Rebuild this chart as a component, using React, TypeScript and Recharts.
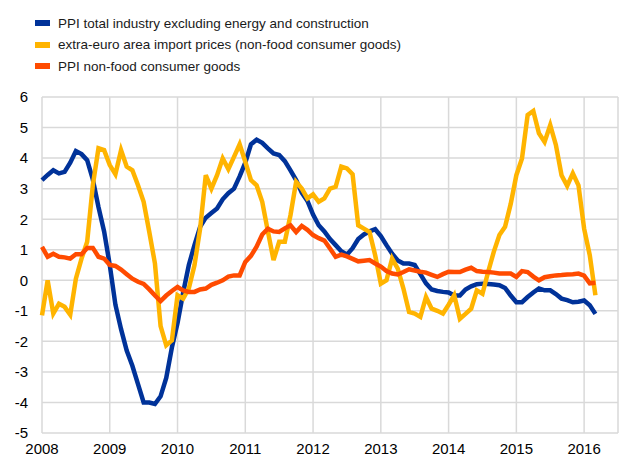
import { LineChart, Line, XAxis, YAxis, CartesianGrid } from "recharts";

// monthly observations, Jan 2008 .. Mar 2016
const ppiTotal = [
  3.28, 3.45, 3.6, 3.5, 3.55, 3.85, 4.23, 4.13, 3.93, 3.3, 2.4, 1.6,
  0.5, -0.8, -1.6, -2.3, -2.8, -3.4, -4.0, -4.0, -4.05, -3.8, -3.2, -2.2,
  -1.4, -0.4, 0.5, 1.15, 1.75, 2.05, 2.2, 2.35, 2.65, 2.85, 3.0, 3.4,
  3.85, 4.45, 4.6, 4.5, 4.32, 4.15, 4.1, 3.9, 3.6, 3.28, 2.87, 2.6,
  2.15, 1.8, 1.6, 1.35, 1.15, 0.95, 0.84, 1.05, 1.35, 1.5, 1.6, 1.67,
  1.45, 1.15, 0.87, 0.65, 0.55, 0.55, 0.5, 0.2, -0.1, -0.3, -0.35, -0.38,
  -0.4, -0.5, -0.5, -0.3, -0.2, -0.13, -0.11, -0.12, -0.14, -0.16, -0.25, -0.5,
  -0.72, -0.72, -0.55, -0.4, -0.27, -0.33, -0.33, -0.45, -0.6, -0.65, -0.72, -0.7,
  -0.66, -0.82, -1.1,
];

const importPrices = [
  -1.15, 0.0, -1.09, -0.77, -0.87, -1.13, 0.05, 0.71, 1.26, 3.11, 4.32, 4.26,
  3.77, 3.47, 4.26, 3.72, 3.6, 3.11, 2.57, 1.58, 0.55, -1.5, -2.13, -1.97,
  -0.49, -0.6, -0.27, 0.49, 1.69, 3.44, 3.0, 3.44, 3.99, 3.64, 4.04, 4.45,
  3.88, 3.28, 3.11, 2.57, 1.6, 0.66, 1.26, 1.26, 2.13, 3.22, 3.0, 2.68,
  2.81, 2.57, 2.68, 3.0, 3.06, 3.72, 3.66, 3.47, 1.8, 1.69, 1.58, 0.82,
  -0.11, 0.0, 0.71, 0.38, -0.27, -1.04, -1.09, -1.2, -0.55, -0.93, -1.0, -1.09,
  -0.8, -0.49, -1.26, -1.1, -0.93, -0.33, -0.44, 0.27, 0.93, 1.48, 1.75, 2.5,
  3.44, 3.99, 5.41, 5.54, 4.81, 4.53, 5.08, 4.43, 3.44, 3.09, 3.5, 3.11,
  1.69, 0.82, -0.49,
];

const ppiNonFood = [
  1.09, 0.77, 0.87, 0.77, 0.75, 0.71, 0.85, 0.85, 1.06, 1.06, 0.77, 0.71,
  0.5, 0.47, 0.35, 0.2, 0.05, -0.05, -0.12, -0.3, -0.5, -0.68, -0.5, -0.35,
  -0.22, -0.33, -0.38, -0.38, -0.3, -0.27, -0.15, -0.08, 0.0, 0.12, 0.16, 0.16,
  0.6, 0.8, 1.1, 1.5, 1.69, 1.6, 1.58, 1.7, 1.8, 1.58, 1.78, 1.65,
  1.48, 1.38, 1.3, 1.04, 0.77, 0.84, 0.78, 0.7, 0.62, 0.64, 0.66, 0.55,
  0.45, 0.3, 0.22, 0.19, 0.27, 0.36, 0.32, 0.28, 0.25, 0.18, 0.11, 0.2,
  0.28, 0.27, 0.27, 0.35, 0.41, 0.3, 0.28, 0.27, 0.25, 0.22, 0.22, 0.22,
  0.11, 0.3, 0.27, 0.12, 0.0, 0.1, 0.13, 0.16, 0.17, 0.19, 0.2, 0.22,
  0.15, -0.1, -0.08,
];

const years = [2008, 2009, 2010, 2011, 2012, 2013, 2014, 2015, 2016];
const yTicks = [-5, -4, -3, -2, -1, 0, 1, 2, 3, 4, 5, 6];

const series = [
  { key: "ppiTotal", name: "PPI total industry excluding energy and construction", color: "#003299" },
  { key: "importPrices", name: "extra-euro area import prices (non-food consumer goods)", color: "#FFB400" },
  { key: "ppiNonFood", name: "PPI non-food consumer goods", color: "#FF4B00" },
];

const data = ppiTotal.map((v, i) => ({
  m: i,
  ppiTotal: v,
  importPrices: importPrices[i],
  ppiNonFood: ppiNonFood[i],
}));

const monthTicks = years.map((_, i) => i * 12);

function ChartLegend() {
  return (
    <div style={{ position: "absolute", top: 12.6, left: 35 }}>
      {series.map((s) => (
        <div key={s.key} style={{ display: "flex", alignItems: "center", height: 21.4 }}>
          <span style={{ display: "inline-block", width: 15, height: 6, background: s.color, marginRight: 8 }} />
          <span style={{ fontSize: 13.5, color: "#1a1a1a", whiteSpace: "nowrap" }}>{s.name}</span>
        </div>
      ))}
    </div>
  );
}

export default function App() {
  return (
    <div style={{ position: "absolute", left: 0, top: 0, width: 620, height: 457, background: "#fff", fontFamily: "'Liberation Sans', Arial, sans-serif" }}>
      <LineChart width={620} height={457} data={data} margin={{ top: 97, right: 2, bottom: 0, left: 0 }}>
        <CartesianGrid stroke="#d9d9d9" strokeWidth={1.5} />
        <XAxis
          dataKey="m"
          type="number"
          domain={[0, 102]}
          ticks={monthTicks}
          tickFormatter={(v: number) => String(2008 + v / 12)}
          axisLine={false}
          tickLine={false}
          tickMargin={4}
          height={24}
          tick={{ fontSize: 15, fill: "#000" }}
          interval={0}
        />
        <YAxis
          type="number"
          domain={[-5, 6]}
          ticks={yTicks}
          axisLine={false}
          tickLine={false}
          tickMargin={8}
          width={42}
          tick={{ fontSize: 15, fill: "#000" }}
          interval={0}
        />
        {series.map((s) => (
          <Line
            key={s.key}
            type="linear"
            dataKey={s.key}
            name={s.name}
            stroke={s.color}
            strokeWidth={4.5}
            dot={false}
            isAnimationActive={false}
          />
        ))}
      </LineChart>
      <ChartLegend />
    </div>
  );
}
